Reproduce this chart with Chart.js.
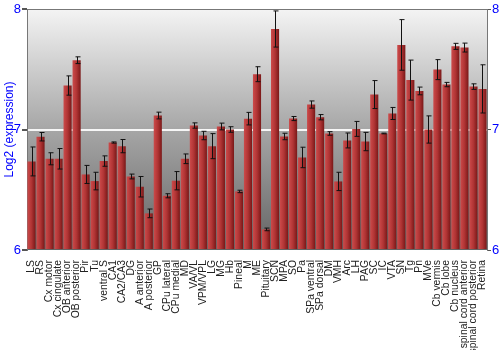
<!DOCTYPE html>
<html>
<head>
<meta charset="utf-8">
<script src="https://cdn.jsdelivr.net/npm/chart.js@4.4.1/dist/chart.umd.min.js"></script>
<style>
  html, body { margin: 0; padding: 0; background: #fff; }
</style>
</head>
<body>
<canvas id="chart" width="500" height="350"></canvas>
<script>
// ===== DATA =====
const regions = [
  "LS", "RS", "Cx motor", "Cx cingulate", "OB anterior", "OB posterior", "Pir", "Tu",
  "ventral S", "CA1", "CA2/CA3", "DG", "A anterior", "A posterior", "GP", "CPu lateral",
  "CPu medial", "MD", "VA/VL", "VPM/VPL", "LG", "MG", "Hb", "Pineal", "M", "ME",
  "Pituitary", "SCN", "MPA", "SO", "Pa", "SPa ventral", "SPa dorsal", "DM", "VMH", "Arc",
  "LH", "PAG", "SC", "IC", "VTA", "SN", "Tg", "Pn", "MVe", "Cb vermis", "Cb lobe",
  "Cb nucleus", "spinal cord anterior", "spinal cord posterior", "Retina"
];
const expression = [
  6.735, 6.94, 6.757, 6.757, 7.365, 7.575, 6.627, 6.572,
  6.738, 6.892, 6.862, 6.61, 6.525, 6.304, 7.116, 6.45,
  6.575, 6.757, 7.033, 6.95, 6.862, 7.025, 7.0, 6.486, 7.09, 7.459,
  6.171, 7.834, 6.942, 7.091, 6.768, 7.207, 7.102, 6.967, 6.569, 6.909,
  7.005, 6.9, 7.29, 6.967, 7.133, 7.702, 7.41, 7.32, 7.0, 7.497, 7.373,
  7.69, 7.68, 7.356, 7.337
];
const errors = [
  0.12, 0.035, 0.05, 0.085, 0.08, 0.028, 0.075, 0.073,
  0.043, 0.005, 0.055, 0.02, 0.085, 0.036, 0.028, 0.017,
  0.076, 0.04, 0.022, 0.035, 0.104, 0.028, 0.023, 0.01, 0.052, 0.062,
  0.011, 0.15, 0.027, 0.017, 0.085, 0.03, 0.022, 0.015, 0.076, 0.062,
  0.062, 0.076, 0.116, 0.003, 0.05, 0.21, 0.166, 0.032, 0.113, 0.083, 0.018,
  0.025, 0.037, 0.023, 0.2
];
const yTicks = [6, 7, 8];

const FONT = "'Liberation Sans', Arial, sans-serif";
const BLUE = "#0000ff";

// plot background gradient + top frame line
const plotFrame = {
  id: "plotFrame",
  beforeDraw(chart){
    const {ctx, chartArea: a} = chart;
    const g = ctx.createLinearGradient(0, a.top, 0, a.bottom);
    g.addColorStop(0, "#f4f4f4");
    g.addColorStop(0.5, "#a6a6a6");
    g.addColorStop(1, "#646464");
    ctx.save();
    ctx.fillStyle = g;
    ctx.fillRect(a.left, a.top, a.right - a.left, a.bottom - a.top);
    ctx.restore();
  },
  afterDraw(chart){
    const {ctx, chartArea: a} = chart;
    ctx.save();
    ctx.strokeStyle = "#777";
    ctx.lineWidth = 1;
    ctx.beginPath();
    ctx.moveTo(a.left, a.top + 0.5);
    ctx.lineTo(a.right, a.top + 0.5);
    ctx.stroke();
    ctx.restore();
  }
};

// error bars from the errors array
const errorBars = {
  id: "errorBars",
  afterDatasetsDraw(chart){
    const {ctx, scales: {x, y}} = chart;
    ctx.save();
    ctx.strokeStyle = "#111";
    ctx.lineWidth = 1;
    expression.forEach((v, i) => {
      const px = Math.round(x.getPixelForValue(i)) + 0.5;
      const hi = y.getPixelForValue(v + errors[i]);
      const lo = y.getPixelForValue(v - errors[i]);
      ctx.beginPath();
      ctx.moveTo(px, hi); ctx.lineTo(px, lo);
      ctx.moveTo(px - 2, hi); ctx.lineTo(px + 3, hi);
      ctx.moveTo(px - 2, lo); ctx.lineTo(px + 3, lo);
      ctx.stroke();
    });
    ctx.restore();
  }
};

function barFill(c){
  const chart = c.chart;
  if(!chart.chartArea) return "#a83030";
  const x = chart.scales.x.getPixelForValue(c.dataIndex);
  const g = chart.ctx.createLinearGradient(x - 4, 0, x + 4, 0);
  g.addColorStop(0, "#cc4a4a");
  g.addColorStop(0.5, "#b03434");
  g.addColorStop(1, "#7a1818");
  return g;
}

new Chart(document.getElementById("chart"), {
  type: "bar",
  data: {
    labels: regions,
    datasets: [{
      data: expression,
      base: 6,
      backgroundColor: barFill,
      borderWidth: 0,
      barPercentage: 0.9,
      categoryPercentage: 1
    }]
  },
  options: {
    responsive: false,
    animation: false,
    devicePixelRatio: 1,
    layout: {padding: {top: 9, left: 0, right: 0, bottom: 0}},
    plugins: {legend: {display: false}, tooltip: {enabled: false}},
    scales: {
      x: {
        grid: {display: false},
        border: {display: false},
        ticks: {
          autoSkip: false, maxRotation: 90, minRotation: 90, padding: 2,
          color: "#222", font: {family: FONT, size: 10.4}
        },
        afterFit: (s) => { s.height = 100; }
      },
      y: {
        position: "left",
        min: 6, max: 8,
        afterBuildTicks: (s) => { s.ticks = yTicks.map(v => ({value: v})); },
        border: {display: true, color: "#777"},
        grid: {
          color: (c) => c.tick && c.tick.value === 7 ? "rgba(255,255,255,0.9)" : "rgba(0,0,0,0)",
          lineWidth: 2,
          tickColor: "#555",
          tickLength: 5
        },
        ticks: {color: BLUE, padding: 1, font: {family: FONT, size: 13}},
        title: {
          display: true, text: "Log2 (expression)", color: BLUE,
          padding: {top: 2, bottom: 0}, font: {family: FONT, size: 12}
        },
        afterFit: (s) => { s.width = 27; }
      },
      y2: {
        position: "right",
        min: 6, max: 8,
        afterBuildTicks: (s) => { s.ticks = yTicks.map(v => ({value: v})); },
        border: {display: true, color: "#777"},
        grid: {drawOnChartArea: false, tickColor: "#555", tickLength: 4},
        ticks: {color: BLUE, padding: 1, font: {family: FONT, size: 13}},
        afterFit: (s) => { s.width = 13; }
      }
    }
  },
  plugins: [plotFrame, errorBars]
});
</script>
</body>
</html>
